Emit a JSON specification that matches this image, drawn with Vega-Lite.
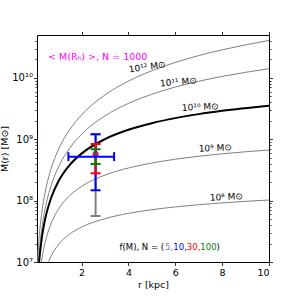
{
  "$schema": "https://vega.github.io/schema/vega-lite/v6.json",
  "width": 232,
  "height": 227,
  "autosize": {"type": "none"},
  "padding": {"left": 37, "top": 35, "right": 30, "bottom": 37},
  "config": {
    "view": {"stroke": "black", "strokeWidth": 1},
    "font": "DejaVu Sans",
    "axis": {"domain": false, "grid": false, "tickColor": "black", "labelColor": "black", "titleColor": "black", "labelFont": "DejaVu Sans", "titleFont": "DejaVu Sans", "labelFontSize": 9.5, "titleFontSize": 9.5, "titleFontWeight": "normal", "tickWidth": 0.8}
  },
  "datasets": {
    "curves": [
      {"halo": "1e12", "r": 0.1, "M": 7.016e6}, {"halo": "1e12", "r": 0.15, "M": 1.573e7}, {"halo": "1e12", "r": 0.2, "M": 2.788e7}, {"halo": "1e12", "r": 0.3, "M": 6.231e7}, {"halo": "1e12", "r": 0.4, "M": 1.1005e8}, {"halo": "1e12", "r": 0.5, "M": 1.7084e8}, {"halo": "1e12", "r": 0.7, "M": 3.305e8}, {"halo": "1e12", "r": 1, "M": 6.617e8}, {"halo": "1e12", "r": 1.5, "M": 1.4426e9}, {"halo": "1e12", "r": 2, "M": 2.4866e9}, {"halo": "1e12", "r": 3, "M": 5.27e9}, {"halo": "1e12", "r": 4, "M": 8.845e9}, {"halo": "1e12", "r": 5, "M": 1.3076e10}, {"halo": "1e12", "r": 6, "M": 1.7851e10}, {"halo": "1e12", "r": 7, "M": 2.3078e10}, {"halo": "1e12", "r": 8, "M": 2.8678e10}, {"halo": "1e12", "r": 10, "M": 4.0754e10},
      {"halo": "1e11", "r": 0.1, "M": 3.887e6}, {"halo": "1e11", "r": 0.15, "M": 8.682e6}, {"halo": "1e11", "r": 0.2, "M": 1.5322e7}, {"halo": "1e11", "r": 0.3, "M": 3.398e7}, {"halo": "1e11", "r": 0.4, "M": 5.955e7}, {"halo": "1e11", "r": 0.5, "M": 9.174e7}, {"halo": "1e11", "r": 0.7, "M": 1.7484e8}, {"halo": "1e11", "r": 1, "M": 3.4254e8}, {"halo": "1e11", "r": 1.5, "M": 7.2166e8}, {"halo": "1e11", "r": 2, "M": 1.2047e9}, {"halo": "1e11", "r": 3, "M": 2.4079e9}, {"halo": "1e11", "r": 4, "M": 3.8361e9}, {"halo": "1e11", "r": 5, "M": 5.4117e9}, {"halo": "1e11", "r": 6, "M": 7.0818e9}, {"halo": "1e11", "r": 7, "M": 8.8095e9}, {"halo": "1e11", "r": 8, "M": 1.05691e10}, {"halo": "1e11", "r": 10, "M": 1.41154e10},
      {"halo": "1e10", "r": 0.1, "M": 2.9028e6}, {"halo": "1e10", "r": 0.15, "M": 6.3837e6}, {"halo": "1e10", "r": 0.2, "M": 1.1096e7}, {"halo": "1e10", "r": 0.3, "M": 2.3891e7}, {"halo": "1e10", "r": 0.4, "M": 4.0695e7}, {"halo": "1e10", "r": 0.5, "M": 6.0998e7}, {"halo": "1e10", "r": 0.7, "M": 1.10395e8}, {"halo": "1e10", "r": 1, "M": 2.01408e8}, {"halo": "1e10", "r": 1.5, "M": 3.8236e8}, {"halo": "1e10", "r": 2, "M": 5.8351e8}, {"halo": "1e10", "r": 3, "M": 1.00646e9}, {"halo": "1e10", "r": 4, "M": 1.42655e9}, {"halo": "1e10", "r": 5, "M": 1.82919e9}, {"halo": "1e10", "r": 6, "M": 2.21001e9}, {"halo": "1e10", "r": 7, "M": 2.56854e9}, {"halo": "1e10", "r": 8, "M": 2.90582e9}, {"halo": "1e10", "r": 10, "M": 3.52301e9},
      {"halo": "1e9", "r": 0.1, "M": 1.4013e6}, {"halo": "1e9", "r": 0.15, "M": 3.0078e6}, {"halo": "1e9", "r": 0.2, "M": 5.1084e6}, {"halo": "1e9", "r": 0.3, "M": 1.05329e7}, {"halo": "1e9", "r": 0.4, "M": 1.72432e7}, {"halo": "1e9", "r": 0.5, "M": 2.49181e7}, {"halo": "1e9", "r": 0.7, "M": 4.22495e7}, {"halo": "1e9", "r": 1, "M": 7.10036e7}, {"halo": "1e9", "r": 1.5, "M": 1.21096e8}, {"halo": "1e9", "r": 2, "M": 1.70235e8}, {"halo": "1e9", "r": 3, "M": 2.60755e8}, {"halo": "1e9", "r": 4, "M": 3.40277e8}, {"halo": "1e9", "r": 5, "M": 4.10312e8}, {"halo": "1e9", "r": 6, "M": 4.72579e8}, {"halo": "1e9", "r": 7, "M": 5.28501e8}, {"halo": "1e9", "r": 8, "M": 5.79188e8}, {"halo": "1e9", "r": 10, "M": 6.68123e8},
      {"halo": "1e8", "r": 0.1, "M": 5.9924e5}, {"halo": "1e8", "r": 0.15, "M": 1.228e6}, {"halo": "1e8", "r": 0.2, "M": 1.99941e6}, {"halo": "1e8", "r": 0.3, "M": 3.82731e6}, {"halo": "1e8", "r": 0.4, "M": 5.88041e6}, {"halo": "1e8", "r": 0.5, "M": 8.04338e6}, {"halo": "1e8", "r": 0.7, "M": 1.24547e7}, {"halo": "1e8", "r": 1, "M": 1.88803e7}, {"halo": "1e8", "r": 1.5, "M": 2.85716e7}, {"halo": "1e8", "r": 2, "M": 3.69885e7}, {"halo": "1e8", "r": 3, "M": 5.08541e7}, {"halo": "1e8", "r": 4, "M": 6.19378e7}, {"halo": "1e8", "r": 5, "M": 7.11394e7}, {"halo": "1e8", "r": 6, "M": 7.8996e7}, {"halo": "1e8", "r": 7, "M": 8.58469e7}, {"halo": "1e8", "r": 8, "M": 9.19188e7}, {"halo": "1e8", "r": 10, "M": 1.02315e8}
    ],
    "errbars": [
      {"N": "5", "r": 2.6, "lo": 5.62e7, "hi": 1.206e9},
      {"N": "10", "r": 2.6, "lo": 1.475e8, "hi": 1.206e9},
      {"N": "30", "r": 2.6, "lo": 2.79e8, "hi": 8.38e8},
      {"N": "100", "r": 2.6, "lo": 3.96e8, "hi": 6.87e8}
    ],
    "xerr": [{"N": "10", "xlo": 1.44, "xhi": 3.39, "M": 5.21e8}],
    "mean": [{"r": 2.6, "M": 5.7e8}],
    "labels": [
      {"halo": "1e12", "r": 4.8, "M": 1.51e10, "t": "10¹² M⊙"},
      {"halo": "1e11", "r": 6.13, "M": 8.58e9, "t": "10¹¹ M⊙"},
      {"halo": "1e10", "r": 7.07, "M": 3.36e9, "t": "10¹⁰ M⊙"},
      {"halo": "1e9", "r": 7.71, "M": 7.21e8, "t": "10⁹ M⊙"},
      {"halo": "1e8", "r": 8.18, "M": 1.15e8, "t": "10⁸ M⊙"}
    ],
    "title": [{"r": 0.57, "M": 2.2e10, "t": "< M(Rₕ) >, N = 1000"}],
    "ftext": [
      {"r": 3.62, "M": 1.75e7, "t": "f(M), N = (", "N": "none"},
      {"r": 5.563, "M": 1.75e7, "t": "5,", "N": "5"},
      {"r": 5.917, "M": 1.75e7, "t": "10,", "N": "10"},
      {"r": 6.493, "M": 1.75e7, "t": "30,", "N": "30"},
      {"r": 7.07, "M": 1.75e7, "t": "100", "N": "100"},
      {"r": 7.761, "M": 1.75e7, "t": ")", "N": "none"}
    ]
  },
  "resolve": {"axis": {"x": "independent", "y": "independent"}},
  "layer": [
    {
      "data": {"name": "curves"},
      "transform": [{"filter": "datum.halo != '1e10'"}],
      "mark": {"type": "line", "color": "#808080", "strokeWidth": 1, "clip": true, "interpolate": "monotone"},
      "encoding": {
        "x": {"field": "r", "type": "quantitative", "scale": {"type": "linear", "domain": [0.1, 10], "nice": false, "zero": false},
              "axis": {"orient": "bottom", "values": [2, 4, 6, 8, 10], "tickSize": 3.5, "labelPadding": 2, "title": "r [kpc]", "titlePadding": 2}},
        "y": {"field": "M", "type": "quantitative", "scale": {"type": "log", "domain": [1e7, 5e10], "nice": false},
              "axis": {"orient": "left", "values": [1e7, 1e8, 1e9, 1e10], "tickSize": 3.5, "labelPadding": 1, "labelFontSize": 10,
                       "labelExpr": "datum.value == 1e7 ? '10⁷' : datum.value == 1e8 ? '10⁸' : datum.value == 1e9 ? '10⁹' : datum.value == 1e10 ? '10¹⁰' : ''",
                       "title": "M(r) [M⊙]", "titlePadding": 2}},
        "detail": {"field": "halo"}
      }
    },
    {
      "data": {"name": "curves"},
      "transform": [{"filter": "datum.halo == '1e10'"}],
      "mark": {"type": "line", "color": "black", "strokeWidth": 2, "clip": true, "interpolate": "monotone"},
      "encoding": {
        "x": {"field": "r", "type": "quantitative", "scale": {"type": "linear", "domain": [0.1, 10], "nice": false, "zero": false},
              "axis": {"orient": "top", "values": [2, 4, 6, 8, 10], "labels": false, "tickSize": 3.5, "title": null}},
        "y": {"field": "M", "type": "quantitative", "scale": {"type": "log", "domain": [1e7, 5e10], "nice": false},
              "axis": {"orient": "right", "values": [1e7, 1e8, 1e9, 1e10], "labels": false, "tickSize": 3.5, "title": null}}
      }
    },
    {
      "data": {"name": "mean"},
      "mark": {"type": "circle", "color": "#ff00ff", "size": 40, "opacity": 1},
      "encoding": {
        "x": {"field": "r", "type": "quantitative", "axis": null},
        "y": {"field": "M", "type": "quantitative",
              "axis": {"orient": "left", "values": [2e7, 3e7, 4e7, 5e7, 6e7, 7e7, 8e7, 9e7, 2e8, 3e8, 4e8, 5e8, 6e8, 7e8, 8e8, 9e8, 2e9, 3e9, 4e9, 5e9, 6e9, 7e9, 8e9, 9e9, 2e10, 3e10, 4e10], "labels": false, "tickSize": 2, "title": null}}
      }
    },
    {
      "data": {"name": "errbars"},
      "mark": {"type": "rule", "strokeWidth": 2},
      "encoding": {
        "x": {"field": "r", "type": "quantitative", "axis": null},
        "y": {"field": "lo", "type": "quantitative",
              "axis": {"orient": "right", "values": [2e7, 3e7, 4e7, 5e7, 6e7, 7e7, 8e7, 9e7, 2e8, 3e8, 4e8, 5e8, 6e8, 7e8, 8e8, 9e8, 2e9, 3e9, 4e9, 5e9, 6e9, 7e9, 8e9, 9e9, 2e10, 3e10, 4e10], "labels": false, "tickSize": 2, "title": null}},
        "y2": {"field": "hi"},
        "color": {"field": "N", "type": "nominal", "scale": {"domain": ["5", "10", "30", "100", "none"], "range": ["#808080", "#0000ff", "#ff0000", "#008000", "#000000"]}, "legend": null}
      }
    },
    {
      "data": {"name": "xerr"},
      "mark": {"type": "rule", "strokeWidth": 2},
      "encoding": {
        "x": {"field": "xlo", "type": "quantitative", "axis": null},
        "x2": {"field": "xhi"},
        "y": {"field": "M", "type": "quantitative", "axis": null},
        "color": {"field": "N", "type": "nominal", "legend": null}
      }
    },
    {
      "data": {"name": "xerr"},
      "transform": [{"fold": ["xlo", "xhi"], "as": ["end", "xv"]}],
      "mark": {"type": "tick", "orient": "vertical", "size": 9, "thickness": 2, "opacity": 1},
      "encoding": {
        "x": {"field": "xv", "type": "quantitative", "axis": null},
        "y": {"field": "M", "type": "quantitative", "axis": null},
        "color": {"field": "N", "type": "nominal", "legend": null}
      }
    },
    {
      "data": {"name": "errbars"},
      "mark": {"type": "tick", "orient": "horizontal", "size": 10, "thickness": 2, "opacity": 1},
      "encoding": {
        "x": {"field": "r", "type": "quantitative", "axis": null},
        "y": {"field": "lo", "type": "quantitative", "axis": null},
        "color": {"field": "N", "type": "nominal", "legend": null}
      }
    },
    {
      "data": {"name": "errbars"},
      "mark": {"type": "tick", "orient": "horizontal", "size": 10, "thickness": 2, "opacity": 1},
      "encoding": {
        "x": {"field": "r", "type": "quantitative", "axis": null},
        "y": {"field": "hi", "type": "quantitative", "axis": null},
        "color": {"field": "N", "type": "nominal", "legend": null}
      }
    },
    {
      "data": {"name": "labels"},
      "transform": [{"filter": "datum.halo == '1e12'"}],
      "mark": {"type": "text", "fontSize": 9, "align": "center", "baseline": "middle", "angle": -8, "color": "black"},
      "encoding": {
        "x": {"field": "r", "type": "quantitative", "axis": null},
        "y": {"field": "M", "type": "quantitative", "axis": null},
        "text": {"field": "t"}
      }
    },
    {
      "data": {"name": "labels"},
      "transform": [{"filter": "datum.halo == '1e11'"}],
      "mark": {"type": "text", "fontSize": 9, "align": "center", "baseline": "middle", "angle": -5, "color": "black"},
      "encoding": {
        "x": {"field": "r", "type": "quantitative", "axis": null},
        "y": {"field": "M", "type": "quantitative", "axis": null},
        "text": {"field": "t"}
      }
    },
    {
      "data": {"name": "labels"},
      "transform": [{"filter": "datum.halo != '1e12' && datum.halo != '1e11'"}],
      "mark": {"type": "text", "fontSize": 9, "align": "center", "baseline": "middle", "angle": -3, "color": "black"},
      "encoding": {
        "x": {"field": "r", "type": "quantitative", "axis": null},
        "y": {"field": "M", "type": "quantitative", "axis": null},
        "text": {"field": "t"}
      }
    },
    {
      "data": {"name": "title"},
      "mark": {"type": "text", "fontSize": 9.5, "align": "left", "baseline": "middle", "color": "#ff00ff"},
      "encoding": {
        "x": {"field": "r", "type": "quantitative", "axis": null},
        "y": {"field": "M", "type": "quantitative", "axis": null},
        "text": {"field": "t"}
      }
    },
    {
      "data": {"name": "ftext"},
      "mark": {"type": "text", "fontSize": 8.5, "align": "left", "baseline": "middle"},
      "encoding": {
        "x": {"field": "r", "type": "quantitative", "axis": null},
        "y": {"field": "M", "type": "quantitative", "axis": null},
        "text": {"field": "t"},
        "color": {"field": "N", "type": "nominal", "legend": null}
      }
    }
  ]
}
